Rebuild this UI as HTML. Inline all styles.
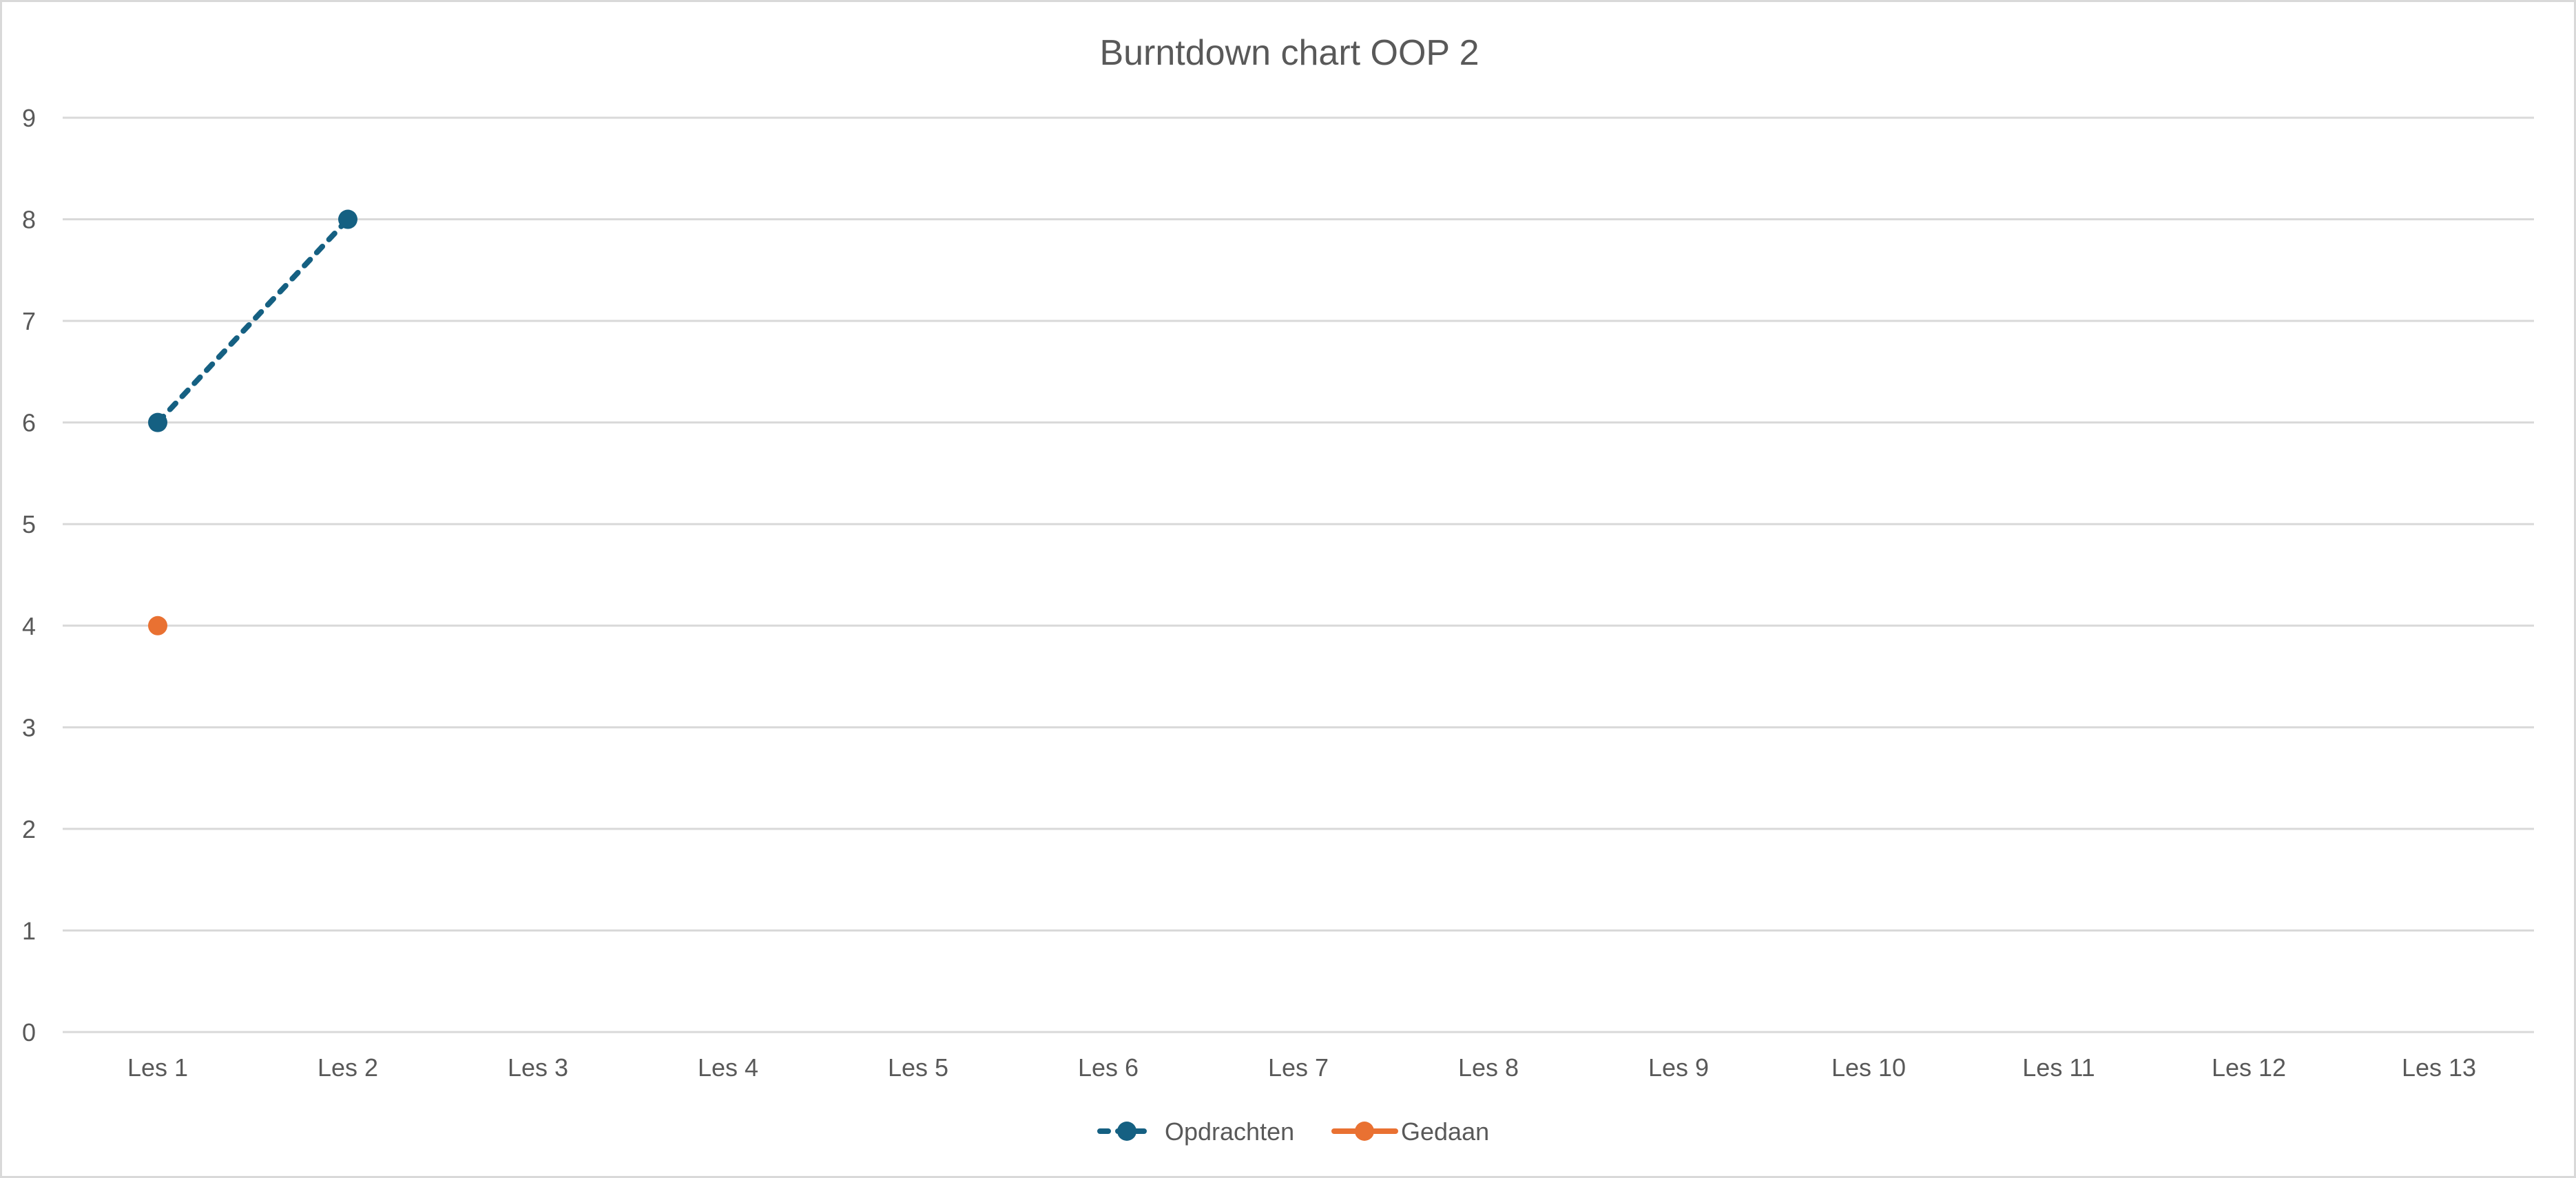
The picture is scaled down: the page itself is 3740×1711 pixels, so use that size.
<!DOCTYPE html>
<html><head><meta charset="utf-8"><style>
html,body{margin:0;padding:0;background:#fff}
svg{display:block}
text{font-family:"Liberation Sans",sans-serif;fill:#595959}
</style></head><body>
<svg id="chart" width="3740" height="1711" viewBox="0 0 3740 1711" xmlns="http://www.w3.org/2000/svg">
<rect x="1.5" y="1.5" width="3737" height="1708" fill="#fff" stroke="#d9d9d9" stroke-width="3"/>
<text x="1872" y="94" font-size="52" text-anchor="middle">Burntdown chart OOP 2</text>
<g id="grid"></g>
<g id="ylabels"></g>
<g id="xlabels"></g>
<g id="series"></g>
<g>
  <g>
    <line x1="1597" y1="1643" x2="1674" y2="1643" stroke="#156082" stroke-width="8" stroke-dasharray="12 14" stroke-linecap="round"/>
    <circle cx="1636" cy="1643" r="14" fill="#156082"/>
    <text x="1691" y="1656" font-size="36">Opdrachten</text>
  </g>
  <g>
    <line x1="1937" y1="1643" x2="2026" y2="1643" stroke="#E97132" stroke-width="8" stroke-linecap="round"/>
    <circle cx="1981" cy="1643" r="14" fill="#E97132"/>
    <text x="2034" y="1656" font-size="36">Gedaan</text>
  </g>
</g>
</svg>
<script>
const categories = ["Les 1","Les 2","Les 3","Les 4","Les 5","Les 6","Les 7","Les 8","Les 9","Les 10","Les 11","Les 12","Les 13"];
const opdrachten = [6, 8, null, null, null, null, null, null, null, null, null, null, null];
const gedaan = [4, null, null, null, null, null, null, null, null, null, null, null, null];
const yTicks = [0,1,2,3,4,5,6,7,8,9];

const NS = "http://www.w3.org/2000/svg";
const left = 91, right = 3679, y0 = 1499, y9 = 171;
const yMax = 9;
const band = (right - left) / categories.length;
function xPos(i){ return left + band * (i + 0.5); }
function yPos(v){ return y0 - (y0 - y9) * v / yMax; }
function mk(tag, attrs, parent){ const e = document.createElementNS(NS, tag); for (const k in attrs) e.setAttribute(k, attrs[k]); parent.appendChild(e); return e; }

const grid = document.getElementById('grid');
const yl = document.getElementById('ylabels');
yTicks.forEach(t => {
  const l = mk('line', {x1:left, x2:right, y1:yPos(t), y2:yPos(t), stroke:'#d9d9d9', 'stroke-width':3}, grid);
  
  
  const tx = mk('text', {x:42, y:yPos(t)+13, 'font-size':36, 'text-anchor':'middle'}, yl);
  tx.textContent = t;
  
  
});
const xl = document.getElementById('xlabels');
categories.forEach((c, i) => {
  const tx = mk('text', {x:xPos(i), y:1563, 'font-size':36, 'text-anchor':'middle'}, xl);
  tx.textContent = c;
  
  
});
const sg = document.getElementById('series');
function drawSeries(vals, color, dashed, name){
  let segs = [], cur = [];
  vals.forEach((v, i) => { if (v === null) { if (cur.length) segs.push(cur); cur = []; } else cur.push([xPos(i), yPos(v)]); });
  if (cur.length) segs.push(cur);
  segs.forEach(s => {
    if (s.length > 1) {
      const p = mk('polyline', {points: s.map(q => q.join(',')).join(' '), fill:'none', stroke:color, 'stroke-width':8, 'stroke-linecap':'round', 'stroke-linejoin':'round'}, sg);
      if (dashed) p.setAttribute('stroke-dasharray', '12 14');
      
      
    }
  });
  vals.forEach((v, i) => {
    if (v === null) return;
    const c = mk('circle', {cx:xPos(i), cy:yPos(v), r:14, fill:color}, sg);
    
    
  });
}
drawSeries(opdrachten, '#156082', true, 'opdrachten');
drawSeries(gedaan, '#E97132', false, 'gedaan');
</script>
</body></html>
